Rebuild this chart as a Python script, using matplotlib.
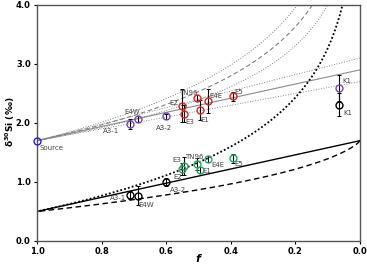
import numpy as np
import matplotlib
matplotlib.use("Agg")
import matplotlib.pyplot as plt

# ---- model parameters ----
d0 = 1.7      # source delta30Si
eps = 1.2     # fractionation
deps = 0.2    # uncertainty on fractionation

# ---- data ----
src_f, src_d = 1.0, 1.70

up_names = ["A3-1", "E4W", "A3-2", "K1"]
up_f = [0.712, 0.688, 0.602, 0.064]
up_d = [1.98, 2.07, 2.11, 2.60]
up_e = [0.08, 0.05, 0.05, 0.22]

red_names = ["E2", "TN96", "E4E", "E3", "E1", "E5"]
red_f = [0.550, 0.505, 0.470, 0.544, 0.495, 0.394]
red_d = [2.29, 2.42, 2.37, 2.16, 2.22, 2.45]
red_e = [0.28, 0.05, 0.20, 0.14, 0.17, 0.07]

lo_names = ["A3-1", "E4W", "A3-2", "K1"]
lo_f = [0.712, 0.686, 0.601, 0.064]
lo_d = [0.78, 0.77, 1.00, 2.31]
lo_e = [0.07, 0.16, 0.07, 0.20]

grn_names = ["E3", "E2", "TN96", "E1", "E4E", "E5"]
grn_f = [0.545, 0.550, 0.505, 0.496, 0.470, 0.394]
grn_d = [1.27, 1.22, 1.31, 1.21, 1.39, 1.40]
grn_e = [0.15, 0.10, 0.10, 0.05, 0.05, 0.07]

# label offsets in points (dx, dy, ha)
up_off = [(-8, -5, "right"), (-4, 5, "center"), (-1, -8, "center"), (2, 5, "left")]
red_off = [(-3, 2, "right"), (-6, 4, "center"), (1, 4, "left"), (1, -6, "left"), (0, -7, "left"), (1, 3, "left")]
lo_off = [(-3, -2, "right"), (0, -7, "left"), (3, -6, "left"), (3, -6, "left")]
grn_off = [(-2, 4, "right"), (0, -6, "right"), (-2, 5, "center"), (2, -1, "left"), (2, -4, "left"), (1, -4, "left")]

fig = plt.figure(figsize=(3.67, 2.67), dpi=100)
ax = fig.add_axes([0.1008, 0.0974, 0.880, 0.884])

f = np.linspace(1e-4, 1.0, 600)
fa = np.linspace(1e-4, 1 - 1e-6, 600)

# upper (residual) models
for e, ls in [(eps, "-"), (eps - deps, ":"), (eps + deps, ":")]:
    ax.plot(f, d0 + e * (1 - f), color="#8a8a8a", lw=0.8 if ls == "-" else 0.7, ls=ls)
for e, ls in [(eps, (0, (4, 2.5))), (eps - deps, ":"), (eps + deps, ":")]:
    ax.plot(f, d0 - e * np.log(f), color="#808080", lw=0.8 if ls != ":" else 0.7, ls=ls)

# lower (product) models
ax.plot(f, d0 - eps * f, color="black", lw=1.0)
ax.plot(fa, d0 + eps * fa * np.log(fa) / (1 - fa), color="black", lw=1.0, ls=(0, (4, 2.5)))
ax.plot(f, d0 - eps - eps * np.log(f), color="black", lw=1.3, ls=(0, (1, 1.2)))

lab_kw = dict(fontsize=5, color="#444444", textcoords="offset points", va="center")

def group(fs, ds, es, names, offs, color):
    ax.errorbar(fs, ds, yerr=es, fmt="none", ecolor="black", elinewidth=0.8, capsize=1.5, capthick=0.7, zorder=3)
    ax.plot(fs, ds, "o", mfc="none", mec=color, mew=1.0, ms=5, zorder=4)
    for x, y, n, (dx, dy, ha) in zip(fs, ds, names, offs):
        ax.annotate(n, (x, y), xytext=(dx, dy), ha=ha, **lab_kw)

group(lo_f, lo_d, lo_e, lo_names, lo_off, "black")
group(grn_f, grn_d, grn_e, grn_names, grn_off, "#20a860")
group(up_f, up_d, up_e, up_names, up_off, "#7a44c0")
group(red_f, red_d, red_e, red_names, red_off, "#e02424")

ax.plot([src_f], [src_d], "o", mfc="none", mec="#2222dd", mew=1.0, ms=5, zorder=5, clip_on=False)
ax.annotate("Source", (src_f, src_d), xytext=(2, -5), ha="left", **lab_kw)

ax.set_xlim(1.0, 0.0)
ax.set_ylim(0.0, 4.0)
ax.set_xticks([1.0, 0.8, 0.6, 0.4, 0.2, 0.0])
ax.set_yticks([0.0, 1.0, 2.0, 3.0, 4.0])
ax.xaxis.set_major_formatter(matplotlib.ticker.FormatStrFormatter("%.1f"))
ax.yaxis.set_major_formatter(matplotlib.ticker.FormatStrFormatter("%.1f"))
ax.tick_params(labelsize=6, length=2.5, width=0.8, direction="out", pad=2)
for lbl in ax.get_xticklabels() + ax.get_yticklabels():
    lbl.set_fontweight("bold")
for s in ax.spines.values():
    s.set_color("#555555")
    s.set_linewidth(1.0)

fig.text(198 / 367, 1 - 259 / 267, "f", fontsize=8, fontweight="bold", style="italic",
         ha="center", va="center")
fig.text(10 / 367, 1 - 122 / 267, r"$\mathbf{\delta^{30}Si}$ (‰)", fontsize=6.5, fontweight="bold",
         rotation=90, ha="center", va="center")

fig.savefig("out.png", dpi=100)
